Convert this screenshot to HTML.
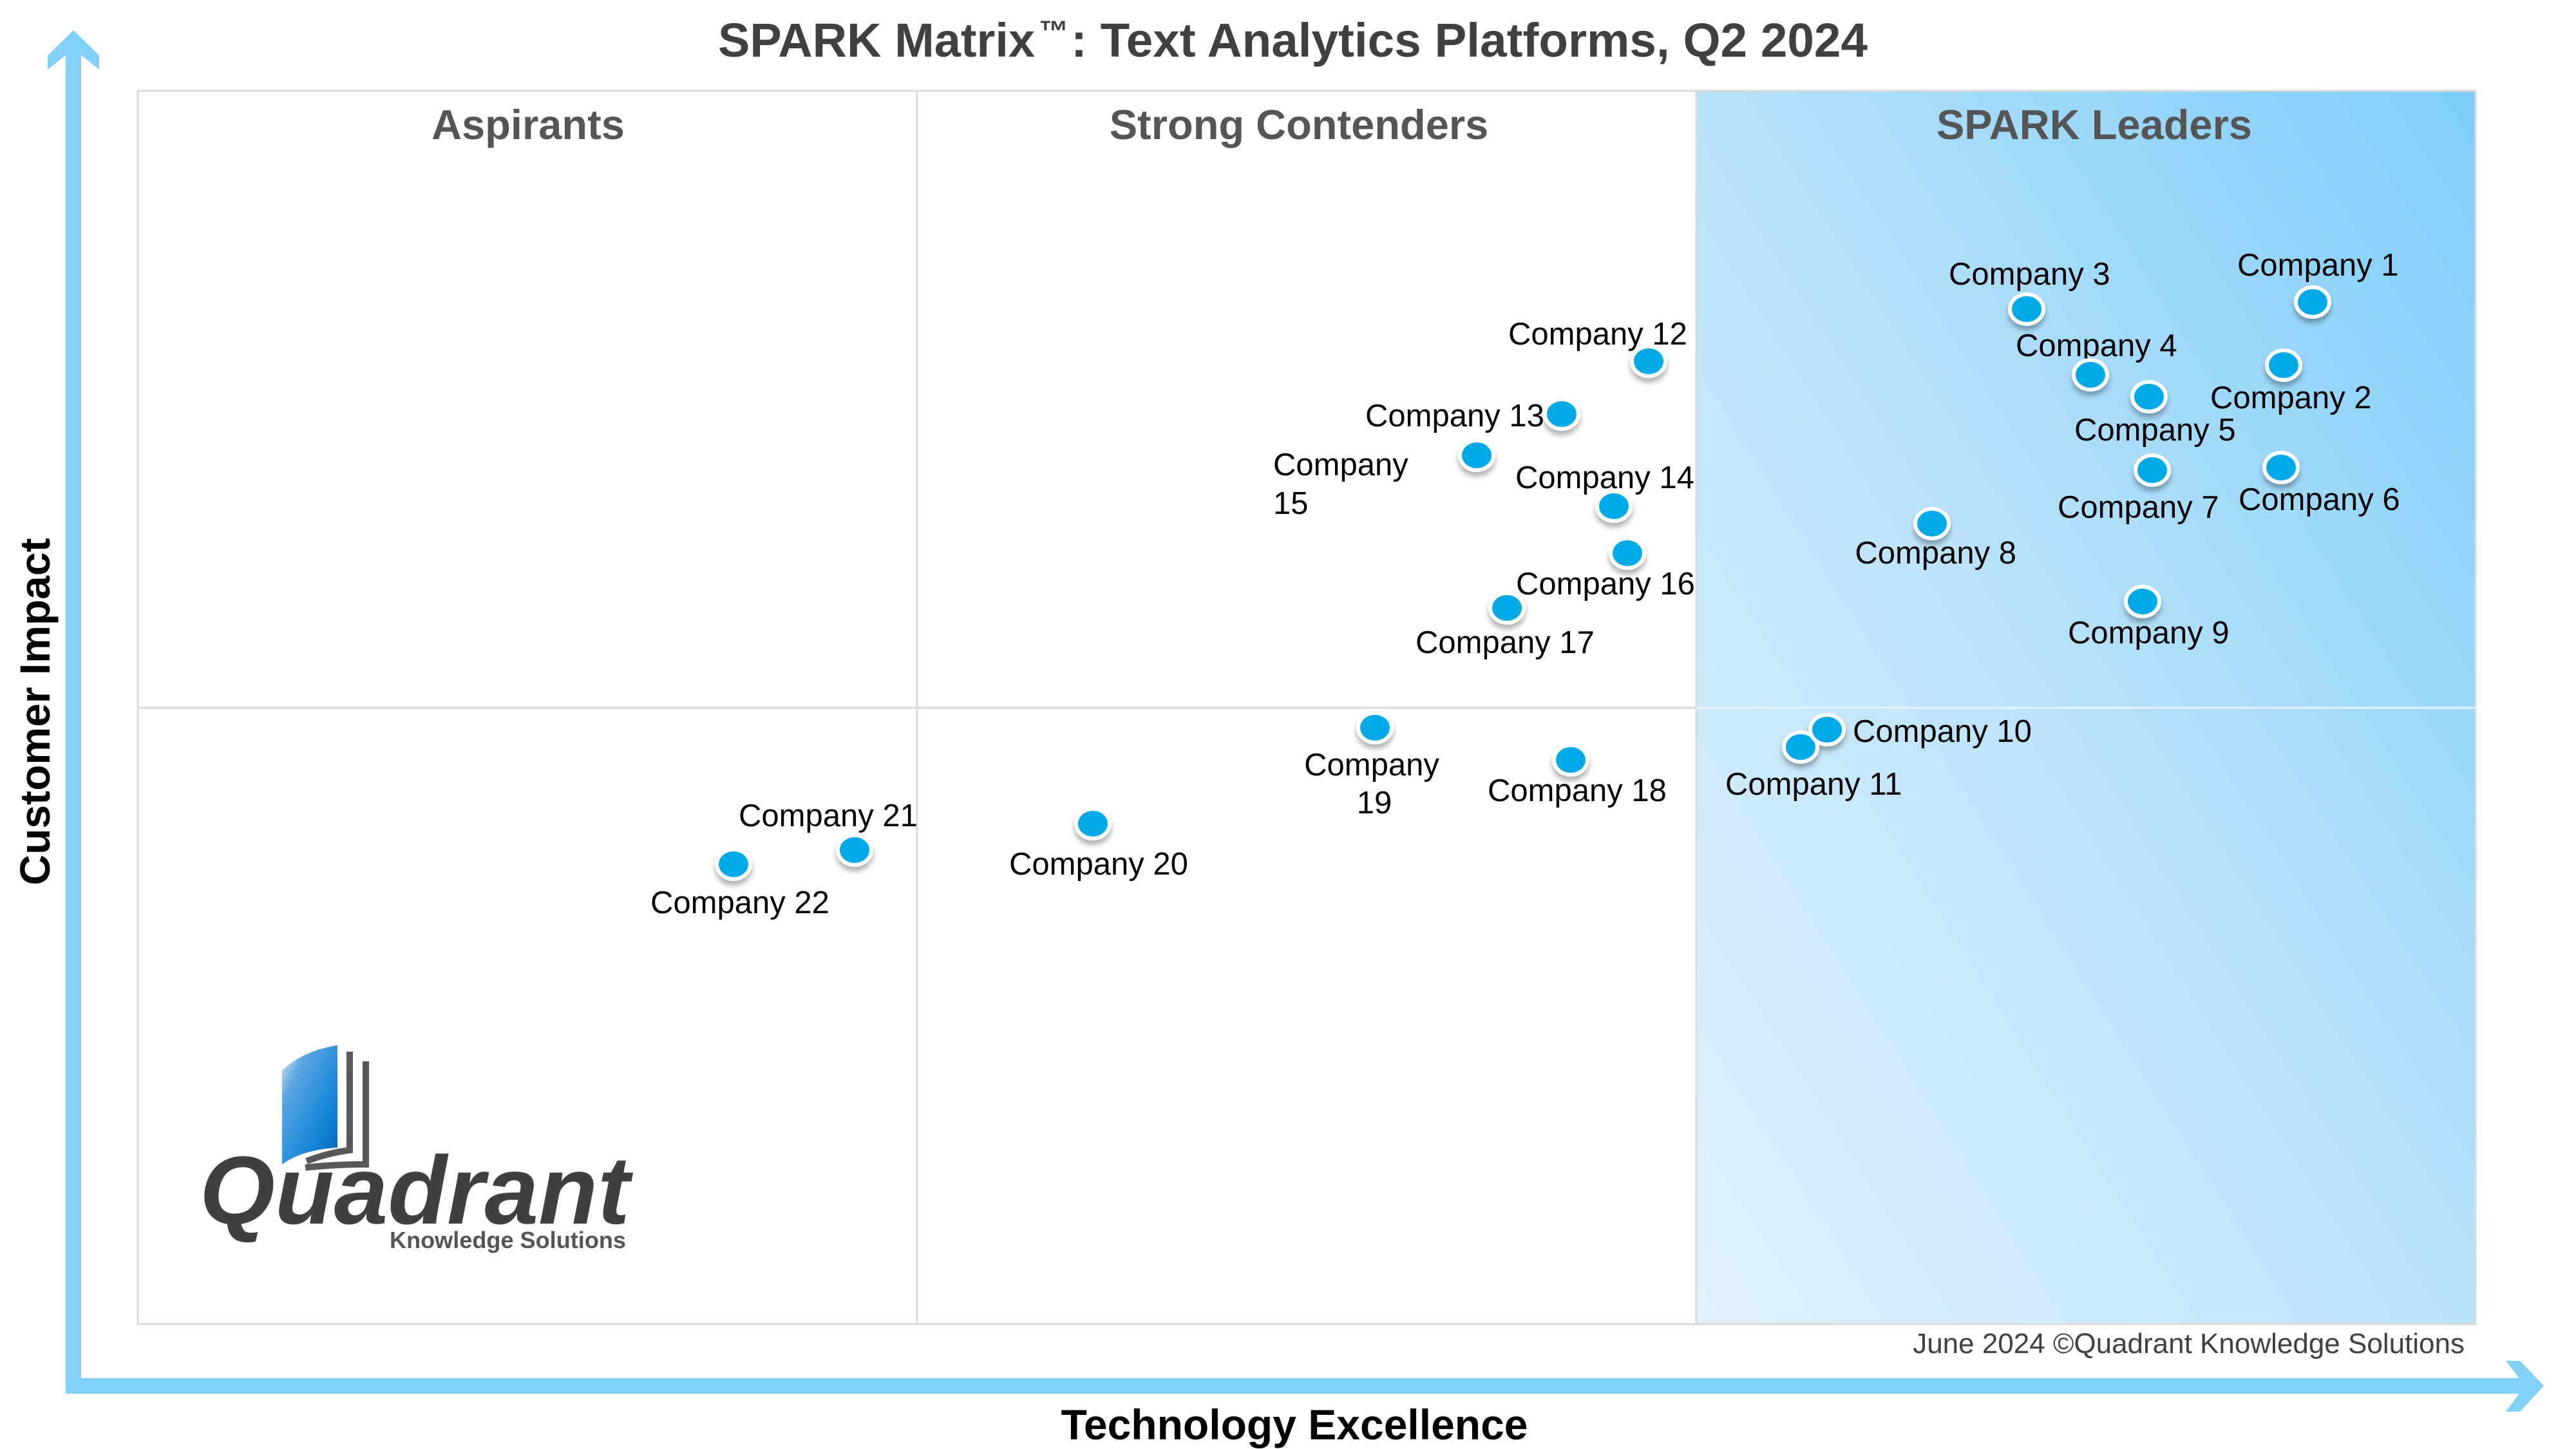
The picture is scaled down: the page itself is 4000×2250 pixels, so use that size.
<!DOCTYPE html>
<html>
<head>
<meta charset="utf-8">
<style>
  html, body { margin:0; padding:0; background:#ffffff; }
  svg { display:block; }
  text { font-family: "Liberation Sans", Arial, sans-serif; }
</style>
</head>
<body>
<svg width="4000" height="2250" viewBox="0 0 4000 2250" xmlns="http://www.w3.org/2000/svg">
  <defs>
    <linearGradient id="lead" x1="0" y1="1" x2="1" y2="0">
      <stop offset="0" stop-color="#e1f1fd"/>
      <stop offset="0.5" stop-color="#b8e2fa"/>
      <stop offset="1" stop-color="#7ecdf8"/>
    </linearGradient>
    <linearGradient id="page" x1="0" y1="0" x2="1" y2="1">
      <stop offset="0" stop-color="#e8f2fb"/>
      <stop offset="0.25" stop-color="#5aa6e0"/>
      <stop offset="0.7" stop-color="#1385d8"/>
      <stop offset="1" stop-color="#0b62b5"/>
    </linearGradient>
    <filter id="sh" x="-50%" y="-50%" width="200%" height="200%">
      <feDropShadow dx="0" dy="7" stdDeviation="4" flood-color="#000" flood-opacity="0.3"/>
    </filter>
  </defs>

  <rect x="0" y="0" width="4000" height="2250" fill="#ffffff"/>

  <!-- Title -->
  <text x="1115" y="88" font-size="74" font-weight="bold" fill="#404040">SPARK Matrix</text>
  <text x="1613" y="64" font-size="46" font-weight="bold" fill="#404040">™</text>
  <text x="1663" y="88" font-size="74" font-weight="bold" fill="#404040" textLength="1237" lengthAdjust="spacingAndGlyphs">: Text Analytics Platforms, Q2 2024</text>

  <!-- Leaders region -->
  <rect x="2635" y="141" width="1209" height="1915" fill="url(#lead)"/>

  <!-- Frame and grid -->
  <rect x="214" y="141" width="3630" height="1915" fill="none" stroke="#dadada" stroke-width="3"/>
  <line x1="1424" y1="141" x2="1424" y2="2056" stroke="#dadada" stroke-width="3"/>
  <line x1="2634" y1="141" x2="2634" y2="2056" stroke="#dadada" stroke-width="3"/>
  <line x1="214" y1="1099" x2="2634" y2="1099" stroke="#dadada" stroke-width="3"/>
  <line x1="2634" y1="1099" x2="3844" y2="1099" stroke="#e6f1f8" stroke-width="3"/>

  <!-- Quadrant labels -->
  <text x="820" y="216" font-size="65" font-weight="bold" fill="#555555" text-anchor="middle">Aspirants</text>
  <text x="2017" y="216" font-size="65" font-weight="bold" fill="#555555" text-anchor="middle">Strong Contenders</text>
  <text x="3252" y="216" font-size="65" font-weight="bold" fill="#555555" text-anchor="middle">SPARK Leaders</text>

  <!-- Axes arrows -->
  <rect x="102" y="70" width="24" height="2094" fill="#82cff7"/>
  <polygon points="74,108 74,86 114,47 154,86 154,108 114,76" fill="#82cff7"/>
  <rect x="102" y="2140" width="3825" height="24" fill="#82cff7"/>
  <polygon points="3891,2113 3913,2113 3950,2152 3913,2192 3891,2192 3921,2152" fill="#82cff7"/>

  <!-- Axis labels -->
  <text x="2010" y="2235" font-size="66" font-weight="bold" fill="#000" text-anchor="middle">Technology Excellence</text>
  <text transform="translate(77,1105) rotate(-90)" font-size="66" font-weight="bold" fill="#000" text-anchor="middle">Customer Impact</text>

  <!-- Footer -->
  <text x="3827" y="2101" font-size="44" fill="#404040" text-anchor="end">June 2024 ©Quadrant Knowledge Solutions</text>

  <!-- Company labels -->
  <g font-size="49" fill="#000">
    <text x="3474" y="428">Company 1</text>
    <text x="3432" y="634">Company 2</text>
    <text x="3026" y="442">Company 3</text>
    <text x="3130" y="553">Company 4</text>
    <text x="3221" y="684">Company 5</text>
    <text x="3476" y="792">Company 6</text>
    <text x="3195" y="804">Company 7</text>
    <text x="3131" y="875" text-anchor="end">Company 8</text>
    <text x="3211" y="999">Company 9</text>
    <text x="2877" y="1152">Company 10</text>
    <text x="2679" y="1234">Company 11</text>
    <text x="2342" y="535">Company 12</text>
    <text x="2120" y="662">Company 13</text>
    <text x="2353" y="758">Company 14</text>
    <text x="1977" y="738">Company</text>
    <text x="1977" y="798">15</text>
    <text x="2354" y="923">Company 16</text>
    <text x="2198" y="1014">Company 17</text>
    <text x="2310" y="1244">Company 18</text>
    <text x="2130" y="1204" text-anchor="middle">Company</text>
    <text x="2134" y="1263" text-anchor="middle">19</text>
    <text x="1567" y="1358">Company 20</text>
    <text x="1147" y="1283">Company 21</text>
    <text x="1010" y="1418">Company 22</text>
  </g>

  <!-- Dots -->
  <g filter="url(#sh)">
    <g fill="#00a9e8" stroke="#ffffff" stroke-width="6">
      <ellipse cx="3591" cy="469" rx="26" ry="23"/>
      <ellipse cx="3546" cy="567" rx="26" ry="23"/>
      <ellipse cx="3147" cy="480" rx="26" ry="23"/>
      <ellipse cx="3246" cy="582" rx="26" ry="23"/>
      <ellipse cx="3337" cy="616" rx="26" ry="23"/>
      <ellipse cx="3542" cy="726" rx="26" ry="23"/>
      <ellipse cx="3342" cy="730" rx="26" ry="23"/>
      <ellipse cx="3000" cy="813" rx="26" ry="23"/>
      <ellipse cx="3327" cy="934" rx="26" ry="23"/>
      <ellipse cx="2796" cy="1160" rx="26" ry="23"/>
      <ellipse cx="2837" cy="1133" rx="26" ry="23"/>
      <ellipse cx="2560" cy="561" rx="26" ry="23"/>
      <ellipse cx="2425" cy="643" rx="26" ry="23"/>
      <ellipse cx="2506" cy="786" rx="26" ry="23"/>
      <ellipse cx="2293" cy="707" rx="26" ry="23"/>
      <ellipse cx="2527" cy="859" rx="26" ry="23"/>
      <ellipse cx="2340" cy="944" rx="26" ry="23"/>
      <ellipse cx="2439" cy="1180" rx="26" ry="23"/>
      <ellipse cx="2135" cy="1130" rx="26" ry="23"/>
      <ellipse cx="1697" cy="1279" rx="26" ry="23"/>
      <ellipse cx="1327" cy="1320" rx="26" ry="23"/>
      <ellipse cx="1139" cy="1342" rx="26" ry="23"/>
    </g>
  </g>

  <!-- Logo -->
  <path d="M438,1662 Q470,1632 524,1623 L524,1782 Q470,1785 438,1808 Z" fill="url(#page)"/>
  <path d="M543,1633 L543,1786 Q510,1790 476,1803" fill="none" stroke="#585858" stroke-width="10"/>
  <path d="M568,1648 L568,1808 Q520,1808 474,1813" fill="none" stroke="#585858" stroke-width="10"/>
  <text x="310" y="1900" font-size="150" font-weight="bold" font-style="italic" fill="#404040" textLength="668" lengthAdjust="spacingAndGlyphs">Quadrant</text>
  <text x="605" y="1938" font-size="36" font-weight="bold" fill="#555555" textLength="367" lengthAdjust="spacingAndGlyphs">Knowledge Solutions</text>
</svg>
</body>
</html>
